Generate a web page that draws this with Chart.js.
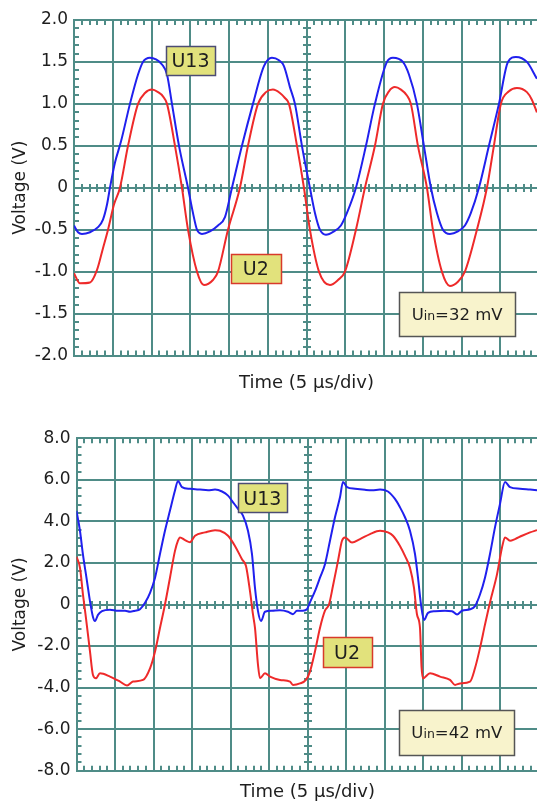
<!DOCTYPE html>
<html>
<head>
<meta charset="utf-8">
<script src="https://cdn.jsdelivr.net/npm/chart.js@4"></script>
<style>
html, body { margin: 0; padding: 0; background: #fff; overflow: hidden; width: 537px; height: 803px; }
canvas { position: absolute; left: 0; }
#top { top: 0; }
#bottom { top: 400px; }
</style>
</head>
<body>
<canvas id="top" width="545" height="400"></canvas>
<canvas id="bottom" width="545" height="403"></canvas>
<script>
// Time in microseconds (5 us per division), voltage in volts

// Upper scope: Uin = 32 mV
const topU13Time = [0, 0.52, 1.03, 2.06, 3.1, 3.74, 4.26, 4.64, 5.29, 6.06, 7.22, 8.26, 8.9, 9.8, 10.58, 11.35, 12.0, 12.64, 13.55, 14.71,
  15.35, 15.87, 16.51, 17.54, 18.58, 19.48, 20.38, 21.67, 23.09, 24.51, 25.54, 26.45, 27.09, 27.86, 28.51, 29.41, 30.44,
  31.09, 31.73, 32.51, 33.54, 34.44, 35.22, 36.38, 37.67, 38.83, 40.38, 41.15, 42.44, 43.22, 44.25, 45.15, 46.05,
  46.83, 47.6, 48.5, 49.54, 50.44, 51.21, 52.25, 53.54, 54.83, 55.99, 57.02, 58.44, 59.73];
const topU13Volt = [-0.45, -0.53, -0.55, -0.53, -0.47, -0.38, -0.2, 0, 0.3, 0.55, 1.0, 1.35, 1.5, 1.55, 1.53, 1.47, 1.35, 1.0, 0.5, 0,
  -0.3, -0.5, -0.55, -0.52, -0.45, -0.35, 0, 0.5, 1.0, 1.45, 1.55, 1.52, 1.45, 1.2, 1.0, 0.5, 0,
  -0.3, -0.5, -0.56, -0.52, -0.45, -0.3, 0, 0.5, 1.0, 1.5, 1.55, 1.5, 1.35, 1.0, 0.5, 0,
  -0.3, -0.5, -0.55, -0.52, -0.45, -0.3, 0, 0.5, 1.0, 1.5, 1.56, 1.5, 1.3];

const topU2Time = [0, 0.77, 2.06, 2.97, 3.74, 4.39, 5.16, 5.93, 6.97, 8.26, 9.16, 10.06, 10.84, 11.48, 12.0, 13.03, 13.93,
  14.71, 15.87, 16.77, 17.93, 18.58, 19.87, 21.41, 22.45, 23.74, 24.77, 25.67, 26.57, 27.22, 27.74, 28.77, 29.67,
  30.44, 31.61, 33.03, 34.06, 34.96, 36.38, 37.54, 38.83, 39.86, 40.64, 41.41, 42.19, 42.96, 43.47, 44.38, 45.54,
  46.31, 47.47, 48.5, 49.54, 50.44, 51.99, 53.28, 54.18, 55.08, 56.12, 57.15, 58.44, 59.08, 59.73];
const topU2Volt = [-1.02, -1.14, -1.13, -0.98, -0.72, -0.5, -0.2, 0, 0.5, 1.0, 1.13, 1.17, 1.14, 1.09, 1.0, 0.5, 0,
  -0.5, -1.0, -1.16, -1.1, -1.0, -0.5, 0, 0.5, 1.0, 1.14, 1.17, 1.13, 1.07, 1.0, 0.5, 0,
  -0.5, -1.0, -1.16, -1.1, -1.0, -0.5, 0, 0.5, 1.0, 1.15, 1.2, 1.17, 1.1, 1.0, 0.5, 0,
  -0.5, -1.0, -1.17, -1.12, -1.0, -0.5, 0, 0.5, 1.0, 1.15, 1.19, 1.14, 1.05, 0.9];

// Lower scope: Uin = 42 mV
const botU13Time = [0, 0.45, 0.84, 1.36, 1.75, 2.14, 2.4, 2.79, 3.31, 4.35, 5.39, 6.3, 6.95, 7.6, 8.25, 8.9, 9.55, 10.2, 10.84,
  11.49, 12.14, 12.79, 13.18, 13.7, 14.74, 16.04, 17.08, 17.99, 18.9, 19.68, 20.33, 20.98, 21.62, 22.27, 22.79, 23.18,
  23.57, 23.96, 24.48, 25.39, 26.43, 27.46, 28.11, 28.63, 29.41, 29.93, 30.32, 30.97, 31.62, 32.27, 32.92, 33.57,
  34.22, 34.61, 35.13, 36.17, 37.47, 38.38, 39.42, 40.45, 41.36, 42.01, 42.66, 43.31, 43.96, 44.35, 44.74, 45.13,
  45.65, 46.56, 47.86, 48.77, 49.42, 50.07, 51.11, 51.75, 52.4, 53.05, 53.7, 54.35, 55.0, 55.65, 56.3, 57.6, 58.9, 59.81];
const botU13Volt = [4.5, 3.55, 2.4, 1.13, 0.16, -0.6, -0.8, -0.5, -0.32, -0.25, -0.3, -0.3, -0.35, -0.3, -0.23, 0.08, 0.56, 1.29, 2.43,
  3.55, 4.52, 5.49, 5.95, 5.65, 5.57, 5.53, 5.5, 5.53, 5.44, 5.24, 4.92, 4.6, 4.28, 3.55, 2.43, 0.8,
  -0.32, -0.8, -0.35, -0.3, -0.28, -0.35, -0.47, -0.3, -0.3, -0.23, 0.1, 0.64, 1.29, 1.94, 3.07, 4.2,
  5.16, 5.9, 5.65, 5.57, 5.52, 5.5, 5.53, 5.44, 5.08, 4.68, 4.2, 3.55, 2.43, 1.29, 0, -0.75,
  -0.4, -0.32, -0.3, -0.32, -0.48, -0.3, -0.23, -0.08, 0.48, 1.29, 2.43, 3.71, 4.84, 5.9, 5.65, 5.57, 5.53, 5.5];

const botU2Time = [0, 0.45, 0.84, 1.23, 1.75, 2.14, 2.53, 3.05, 4.35, 5.65, 6.56, 7.34, 8.64, 9.55, 10.2, 10.84, 11.49, 12.14,
  12.79, 13.18, 13.44, 14.09, 14.74, 15.39, 16.69, 17.99, 18.64, 19.68, 20.58, 21.49, 22.01, 22.53, 22.92, 23.18,
  23.57, 23.83, 24.48, 25.13, 26.43, 27.73, 28.11, 29.03, 29.8, 30.32, 30.97, 31.62, 32.27, 32.79, 33.31, 33.96,
  34.48, 34.87, 35.78, 36.82, 38.12, 39.42, 40.45, 41.1, 42.01, 42.66, 43.31, 43.83, 44.22, 44.61, 44.81, 45.0,
  45.91, 47.21, 48.51, 49.16, 49.81, 51.11, 51.75, 52.4, 53.05, 53.7, 54.61, 55.26, 55.65, 56.3, 56.95, 57.86, 58.9, 59.81];
const botU2Volt = [2.3, 1.77, 0.48, -0.65, -2.26, -3.39, -3.55, -3.31, -3.47, -3.71, -3.9, -3.71, -3.63, -3.07, -2.26, -1.13, 0, 1.29,
  2.58, 3.07, 3.23, 3.1, 3.0, 3.31, 3.47, 3.58, 3.55, 3.31, 2.82, 2.18, 1.85, 0.64, -0.48, -1.13,
  -2.9, -3.55, -3.31, -3.47, -3.63, -3.71, -3.87, -3.8, -3.63, -3.23, -2.26, -1.13, -0.3, 0, 0.9, 2.1,
  3.07, 3.23, 2.98, 3.15, 3.39, 3.55, 3.47, 3.31, 2.82, 2.34, 1.77, 0.8, -0.48, -1.13, -3.0, -3.55,
  -3.31, -3.47, -3.63, -3.87, -3.8, -3.71, -3.07, -2.1, -0.97, 0.1, 1.45, 2.74, 3.23, 3.07, 3.15, 3.31, 3.47, 3.58];

const GRID = '#4f8c87';
const FONT = "'DejaVu Sans', sans-serif";

function pairs(t, v) {
    return t.map((x, i) => ({ x: x, y: v[i] }));
}

// minor ticks on the borders and centre axes, plus the label boxes
const scopeDecor = {
    id: 'scopeDecor',
    beforeDatasetsDraw(chart, args, opts) {
        const { ctx, chartArea: a, scales: { x, y } } = chart;
        const y0 = Math.round(y.getPixelForValue(0));
        const xc = Math.round(x.getPixelForValue(30));
        ctx.save();
        ctx.strokeStyle = GRID;
        ctx.lineWidth = 2;
        ctx.beginPath();
        for (let t = 1; t < 60; t++) {
            if (t % 5 === 0) continue;
            const px = Math.round(x.getPixelForValue(t));
            ctx.moveTo(px, a.top); ctx.lineTo(px, a.top + 5);
            ctx.moveTo(px, a.bottom); ctx.lineTo(px, a.bottom - 5);
            ctx.moveTo(px, y0 - 4); ctx.lineTo(px, y0 + 4);
        }
        const n = Math.round((y.max - y.min) / opts.minorY);
        for (let i = 1; i < n; i++) {
            if (i % 5 === 0) continue;
            const py = Math.round(y.getPixelForValue(y.min + i * opts.minorY));
            ctx.moveTo(a.left, py); ctx.lineTo(a.left + 5, py);
            ctx.moveTo(xc - 4, py); ctx.lineTo(xc + 4, py);
        }
        ctx.stroke();
        ctx.restore();
    },
    afterDatasetsDraw(chart, args, opts) {
        const { ctx, scales: { x, y } } = chart;
        ctx.save();
        opts.boxes.forEach(b => {
            const cx = x.getPixelForValue(b.t);
            const cy = y.getPixelForValue(b.v);
            const l = Math.round(cx - b.w / 2) + 0.5;
            const tp = Math.round(cy - b.h / 2) + 0.5;
            ctx.fillStyle = b.fill;
            ctx.fillRect(l, tp, b.w, b.h);
            ctx.strokeStyle = b.stroke;
            ctx.lineWidth = 1.5;
            ctx.strokeRect(l, tp, b.w, b.h);
            ctx.fillStyle = '#1e1e1e';
            ctx.textBaseline = 'alphabetic';
            ctx.textAlign = 'left';
            // text parts: [string, font size]
            const parts = b.parts;
            let total = 0;
            parts.forEach(p => {
                ctx.font = p[1] + 'px ' + FONT;
                total += ctx.measureText(p[0]).width;
            });
            let px = cx - total / 2;
            const base = cy + parts[0][1] * 0.36;
            parts.forEach(p => {
                ctx.font = p[1] + 'px ' + FONT;
                ctx.fillText(p[0], px, base);
                px += ctx.measureText(p[0]).width;
            });
        });
        ctx.restore();
    }
};

function scope(id, o) {
    new Chart(document.getElementById(id), {
        type: 'line',
        data: {
            datasets: [
                { label: 'U13', data: pairs(o.t13, o.v13), borderColor: '#2020ee' },
                { label: 'U2', data: pairs(o.t2, o.v2), borderColor: '#ee2a2a' }
            ]
        },
        options: {
            responsive: false,
            animation: false,
            devicePixelRatio: 1,
            layout: { padding: { top: o.top, right: o.right, left: 0, bottom: 0 } },
            elements: {
                point: { radius: 0 },
                line: { borderWidth: 2, cubicInterpolationMode: 'monotone', fill: false }
            },
            plugins: {
                legend: { display: false },
                tooltip: { enabled: false },
                scopeDecor: { minorY: o.minorY, boxes: o.boxes }
            },
            scales: {
                x: {
                    type: 'linear', min: 0, max: 60,
                    ticks: { display: false, stepSize: 5 },
                    grid: { color: GRID, lineWidth: 2, drawTicks: false },
                    border: { color: GRID, width: 2 },
                    title: {
                        display: true, text: 'Time (5 \u00b5s/div)', color: '#1e1e1e',
                        font: { family: FONT, size: 18 }, padding: { top: 0, bottom: o.titlePad }
                    },
                    afterFit: s => { s.height = o.xh; }
                },
                y: {
                    min: o.ymin, max: o.ymax,
                    ticks: {
                        stepSize: o.step, padding: 6, color: '#1e1e1e',
                        font: { family: FONT, size: 17 },
                        callback: v => v === 0 ? '0' : v.toFixed(1)
                    },
                    grid: { color: GRID, lineWidth: 2, drawTicks: false },
                    border: { color: GRID, width: 2 },
                    title: {
                        display: true, text: 'Voltage (V)', color: '#1e1e1e',
                        font: { family: FONT, size: 17 }, padding: { top: 10, bottom: 0 }
                    },
                    afterFit: s => { s.width = o.left; }
                }
            }
        },
        plugins: [scopeDecor]
    });
}

scope('top', {
    t13: topU13Time, v13: topU13Volt, t2: topU2Time, v2: topU2Volt,
    ymin: -2, ymax: 2, step: 0.5, minorY: 0.1,
    top: 20, right: 6, left: 74, xh: 44.5, titlePad: 6,
    boxes: [
        { t: 15.03, v: 1.52, w: 49, h: 29, fill: '#e2e27c', stroke: '#4c4c74', parts: [['U13', 19]] },
        { t: 23.45, v: -0.96, w: 50, h: 29, fill: '#e2e27c', stroke: '#d83a2b', parts: [['U2', 19]] },
        { t: 49.43, v: -1.5, w: 116, h: 44, fill: '#f8f3cc', stroke: '#555555', parts: [['U', 16.5], ['in', 12.5], ['=32 mV', 16.5]] }
    ]
});

scope('bottom', {
    t13: botU13Time, v13: botU13Volt, t2: botU2Time, v2: botU2Volt,
    ymin: -8, ymax: 8, step: 2, minorY: 0.4,
    top: 38.3, right: 6.5, left: 76.5, xh: 32.3, titlePad: 0,
    boxes: [
        { t: 24.13, v: 5.14, w: 49, h: 29, fill: '#e2e27c', stroke: '#4c4c74', parts: [['U13', 19]] },
        { t: 35.13, v: -2.3, w: 49, h: 30, fill: '#e2e27c', stroke: '#d83a2b', parts: [['U2', 19]] },
        { t: 49.39, v: -6.15, w: 115, h: 45, fill: '#f8f3cc', stroke: '#555555', parts: [['U', 16.5], ['in', 12.5], ['=42 mV', 16.5]] }
    ]
});
</script>
</body>
</html>
